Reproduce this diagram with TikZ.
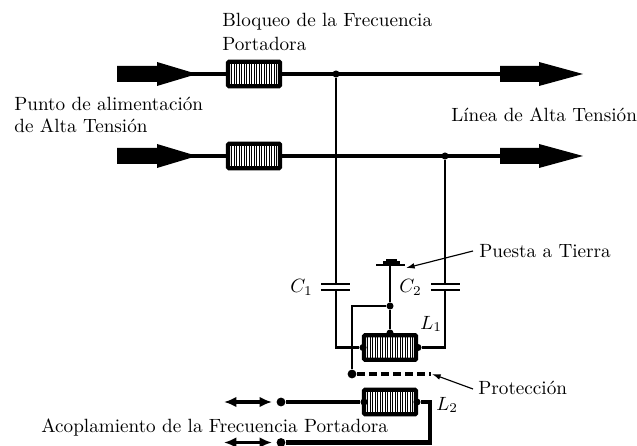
\documentclass[tikz,border=0pt]{standalone}
\usetikzlibrary{arrows.meta}
\begin{document}
\begin{tikzpicture}[x=0.522pt,y=-0.522pt,
  wire/.style={line width=1.7pt},
  thin wire/.style={line width=1.35pt},
  hatchbox/.style={draw,line width=2.2pt,rounded corners=0.5pt,minimum width=27.2pt,minimum height=12.7pt,inner sep=0pt,
    path picture={\foreach \i in {-25,-22.5,...,25}{\draw[line width=0.4pt] ([xshift=\i*0.522pt]path picture bounding box.north) -- ([xshift=\i*0.522pt]path picture bounding box.south);}}},
  junction/.style={circle,fill=black,inner sep=0pt,minimum size=3.7pt},
  bigdot/.style={circle,fill=black,inner sep=0pt,minimum size=4.6pt},
  lab/.style={inner sep=0pt,anchor=base west},
  fat/.style={fill=black,draw=none},
  dbl/.style={line width=1.9pt,{Latex[length=6.5pt,width=5.6pt]}-{Latex[length=6.5pt,width=5.6pt]}},
  pointer/.style={line width=0.6pt,-{Latex[length=4.5pt,width=3pt]}}]
\useasboundingbox (0,0) rectangle (637,446);
% boxes
\node[hatchbox] (B1) at (254,74) {};
\node[hatchbox] (B2) at (254,156) {};
\node[hatchbox] (L1) at (390,347.5) {};
\node[hatchbox] (L2) at (390,402) {};
% fat arrows
\foreach \y in {74,156}{
  \fill[fat] (117,\y-8) -- (157,\y-8) -- (157,\y-12) -- (197,\y) -- (157,\y+12) -- (157,\y+8) -- (117,\y+8) -- cycle;
  \fill[fat] (500,\y-8) -- (539,\y-8) -- (539,\y-12) -- (583,\y) -- (539,\y+12) -- (539,\y+8) -- (500,\y+8) -- cycle;
}
\coordinate (ina) at (190,74);
\coordinate (inb) at (190,156);
\coordinate (outa) at (505,74);
\coordinate (outb) at (505,156);
\draw[wire] (ina) -- (B1.west);
\draw[wire] (inb) -- (B2.west);
\draw[wire] (B1.east) -- (outa);
\draw[wire] (B2.east) -- (outb);
% junctions
\node[junction] (J1) at (336,74) {};
\node[junction] (J2) at (445,156) {};
\node[junction] (J3) at (390,306) {};
\node[junction] (T) at (390,333) {};
\node[junction] (LL) at (363,347.5) {};
\node[junction] (LR) at (418,347.5) {};
\node[bigdot] (P) at (352,374) {};
\node[junction] (DL) at (364,402) {};
\node[junction] (DR) at (417,402) {};
\node[bigdot] (A1) at (281,402) {};
\node[bigdot] (A2) at (281,442.5) {};
% capacitors
\coordinate (C1t) at (336,284);
\coordinate (C1b) at (336,290);
\coordinate (C2t) at (445,284);
\coordinate (C2b) at (445,290);
\draw[thin wire] (J1) -- (C1t);
\draw[thin wire] (J2) -- (C2t);
\draw[thin wire] (321,284) -- (350,284) (321,290) -- (350,290);
\draw[thin wire] (431,284) -- (460,284) (431,290) -- (460,290);
\draw[thin wire] (C1b) |- (LL);
\draw[thin wire] (C2b) |- (LR);
% ground
\coordinate (G) at (390,265);
\draw[line width=1.5pt] (376,265) -- (405,265);
\draw[line width=1.5pt] (383,262.5) -- (400,262.5);
\draw[line width=1.5pt] (386,260) -- (397,260);
\draw[thin wire] (G) -- (J3) -- (T);
\draw[thin wire] (J3) -| (P);
\coordinate (PE) at (431,374);
\draw[line width=1.9pt,dash pattern=on 4.2pt off 2.1pt] (P) -- (PE);
% L2 wiring
\draw[wire] (A1) -- (DL);
\draw[line width=2.1pt] (DR) -- (430,402) |- (A2);
% double arrows
\coordinate (a1) at (224,402); \coordinate (a2) at (272,402);
\coordinate (b1) at (224,442.5); \coordinate (b2) at (272,442.5);
\draw[dbl] (a1) -- (a2);
\draw[dbl] (b1) -- (b2);
% labels
\node[lab] (t1) at (222,27) {Bloqueo de la Frecuencia};
\node[lab] (t2) at (222,51) {Portadora};
\node[lab] (t3) at (14,111) {Punto de alimentación};
\node[lab] (t4) at (14,133) {de Alta Tensión};
\node[lab] (t5) at (451,122) {Línea de Alta Tensión};
\node[lab] (t6) at (479,258) {Puesta a Tierra};
\node[lab] (t7) at (478,394) {Protección};
\node[lab] (t8) at (41,432) {Acoplamiento de la Frecuencia Portadora};
\node[lab] (c1) at (290,293) {$C_1$};
\node[lab] (c2) at (399,293) {$C_2$};
\node[lab] (l1) at (420,329) {$L_1$};
\node[lab] (l2) at (436,410) {$L_2$};
\coordinate (p1) at (473,251);
\coordinate (p1e) at (406,268);
\coordinate (p2) at (473,389);
\coordinate (p2e) at (432,374);
\draw[pointer] (p1) -- (p1e);
\draw[pointer] (p2) -- (p2e);
\end{tikzpicture}
\end{document}
